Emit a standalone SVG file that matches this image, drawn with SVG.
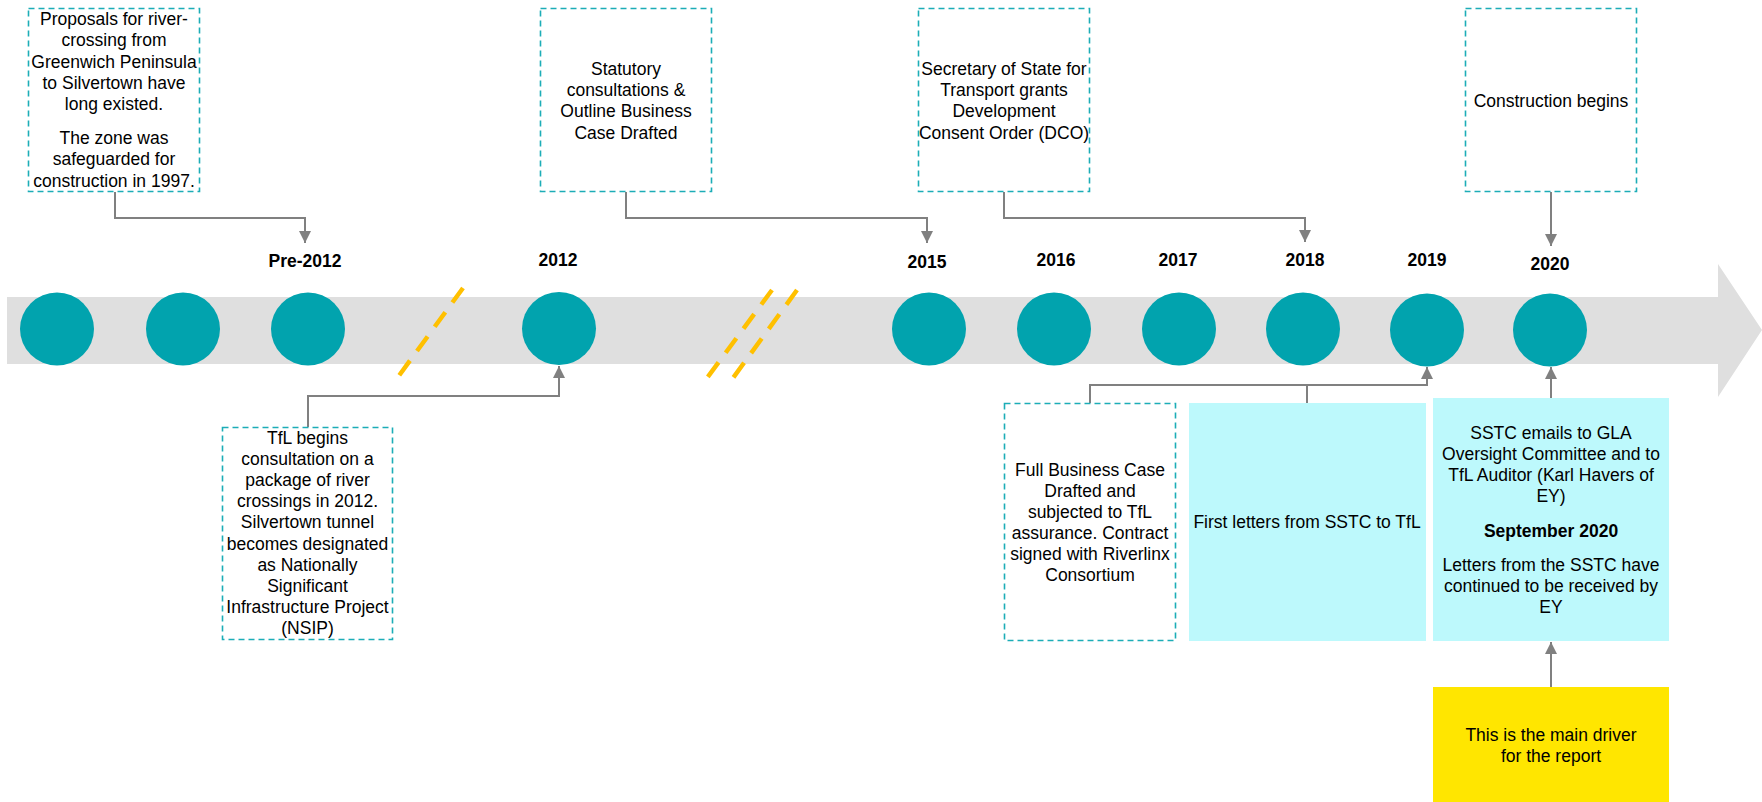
<svg xmlns="http://www.w3.org/2000/svg" width="1762" height="802" viewBox="0 0 1762 802">
<style>
text{font-family:"Liberation Sans",Arial,sans-serif;font-size:17.5px;fill:#000;text-anchor:middle}
.yr{font-weight:bold}
.b{font-weight:bold}
.dbox{fill:#fff;stroke:#1CADB7;stroke-width:1.6;stroke-dasharray:6 4}
.cbox{fill:#BDF9FC}
.ybox{fill:#FFE600}
.dot{fill:#01A3AE}
.con{fill:none;stroke:#808080;stroke-width:2}
.brk{stroke:#FFC000;stroke-width:4.5;stroke-dasharray:18 12}
</style>
<defs>
<marker id="arr" viewBox="0 0 12 12" refX="12" refY="6" markerWidth="12" markerHeight="12" markerUnits="userSpaceOnUse" orient="auto">
<path d="M0,0 L12,6 L0,12 z" fill="#808080"/>
</marker>
</defs>

<g id="timeline">
<path d="M7,297 H1718 V264 L1762,330 L1718,397 V364 H7 Z" fill="#DFDFDF"/>
<line class="brk" x1="463" y1="288" x2="398" y2="377"/>
<line class="brk" x1="772" y1="290" x2="707" y2="378"/>
<line class="brk" x1="797" y1="290" x2="733" y2="378"/>
<ellipse class="dot" cx="57" cy="329" rx="37" ry="36.5"/>
<ellipse class="dot" cx="183" cy="329" rx="37" ry="36.5"/>
<ellipse class="dot" cx="308" cy="329" rx="37" ry="36.5"/>
<ellipse class="dot" cx="559" cy="328.5" rx="37" ry="36.5"/>
<ellipse class="dot" cx="929" cy="329" rx="37" ry="36.5"/>
<ellipse class="dot" cx="1054" cy="329" rx="37" ry="36.5"/>
<ellipse class="dot" cx="1179" cy="329" rx="37" ry="36.5"/>
<ellipse class="dot" cx="1303" cy="329" rx="37" ry="36.5"/>
<ellipse class="dot" cx="1427" cy="330" rx="37" ry="36.5"/>
<ellipse class="dot" cx="1550" cy="330" rx="37" ry="36.5"/>
<text class="yr" x="305" y="267">Pre-2012</text>
<text class="yr" x="558" y="266">2012</text>
<text class="yr" x="927" y="268">2015</text>
<text class="yr" x="1056" y="266">2016</text>
<text class="yr" x="1178" y="266">2017</text>
<text class="yr" x="1305" y="266">2018</text>
<text class="yr" x="1427" y="266">2019</text>
<text class="yr" x="1550" y="270">2020</text>
</g>

<g id="connectors">
<path class="con" d="M115,192 V218 H305 V243" marker-end="url(#arr)"/>
<path class="con" d="M626,192 V218 H927 V243" marker-end="url(#arr)"/>
<path class="con" d="M1004,192 V218 H1305 V242" marker-end="url(#arr)"/>
<path class="con" d="M1551,192 V246" marker-end="url(#arr)"/>
<path class="con" d="M308,427 V396 H559 V366" marker-end="url(#arr)"/>
<path class="con" d="M1090,403 V385 H1427 V367" marker-end="url(#arr)"/>
<path class="con" d="M1307,403 V385"/>
<path class="con" d="M1551,398 V367" marker-end="url(#arr)"/>
<path class="con" d="M1551,687 V642" marker-end="url(#arr)"/>
</g>

<g id="node-proposals">
<rect class="dbox" x="28.5" y="8.5" width="171" height="183"/>
<text x="114" y="25">Proposals for river-</text>
<text x="114" y="46">crossing from</text>
<text x="114" y="68">Greenwich Peninsula</text>
<text x="114" y="89">to Silvertown have</text>
<text x="114" y="110">long existed.</text>
<text x="114" y="144">The zone was</text>
<text x="114" y="165">safeguarded for</text>
<text x="114" y="187">construction in 1997.</text>
</g>

<g id="node-statutory">
<rect class="dbox" x="540.5" y="8.5" width="171" height="183"/>
<text x="626" y="75">Statutory</text>
<text x="626" y="96">consultations &amp;</text>
<text x="626" y="117">Outline Business</text>
<text x="626" y="139">Case Drafted</text>
</g>

<g id="node-dco">
<rect class="dbox" x="918.5" y="8.5" width="171" height="183"/>
<text x="1004" y="75">Secretary of State for</text>
<text x="1004" y="96">Transport grants</text>
<text x="1004" y="117">Development</text>
<text x="1004" y="139">Consent Order (DCO)</text>
</g>

<g id="node-construction">
<rect class="dbox" x="1465.5" y="8.5" width="171" height="183"/>
<text x="1551" y="107">Construction begins</text>
</g>

<g id="node-tfl">
<rect class="dbox" x="222.5" y="427.5" width="170" height="212"/>
<text x="307.5" y="444">TfL begins</text>
<text x="307.5" y="465">consultation on a</text>
<text x="307.5" y="486">package of river</text>
<text x="307.5" y="507">crossings in 2012.</text>
<text x="307.5" y="528">Silvertown tunnel</text>
<text x="307.5" y="550">becomes designated</text>
<text x="307.5" y="571">as Nationally</text>
<text x="307.5" y="592">Significant</text>
<text x="307.5" y="613">Infrastructure Project</text>
<text x="307.5" y="634">(NSIP)</text>
</g>

<g id="node-fbc">
<rect class="dbox" x="1004.5" y="403.5" width="171" height="237"/>
<text x="1090" y="476">Full Business Case</text>
<text x="1090" y="497">Drafted and</text>
<text x="1090" y="518">subjected to TfL</text>
<text x="1090" y="539">assurance. Contract</text>
<text x="1090" y="560">signed with Riverlinx</text>
<text x="1090" y="581">Consortium</text>
</g>

<g id="node-first-letters">
<rect class="cbox" x="1189" y="403" width="237" height="238"/>
<text x="1307" y="528">First letters from SSTC to TfL</text>
</g>

<g id="node-sstc">
<rect class="cbox" x="1433" y="398" width="236" height="243"/>
<text x="1551" y="439">SSTC emails to GLA</text>
<text x="1551" y="460">Oversight Committee and to</text>
<text x="1551" y="481">TfL Auditor (Karl Havers of</text>
<text x="1551" y="502">EY)</text>
<text class="b" x="1551" y="537">September 2020</text>
<text x="1551" y="571">Letters from the SSTC have</text>
<text x="1551" y="592">continued to be received by</text>
<text x="1551" y="613">EY</text>
</g>

<g id="node-driver">
<rect class="ybox" x="1433" y="687" width="236" height="115"/>
<text x="1551" y="741">This is the main driver</text>
<text x="1551" y="762">for the report</text>
</g>
</svg>
